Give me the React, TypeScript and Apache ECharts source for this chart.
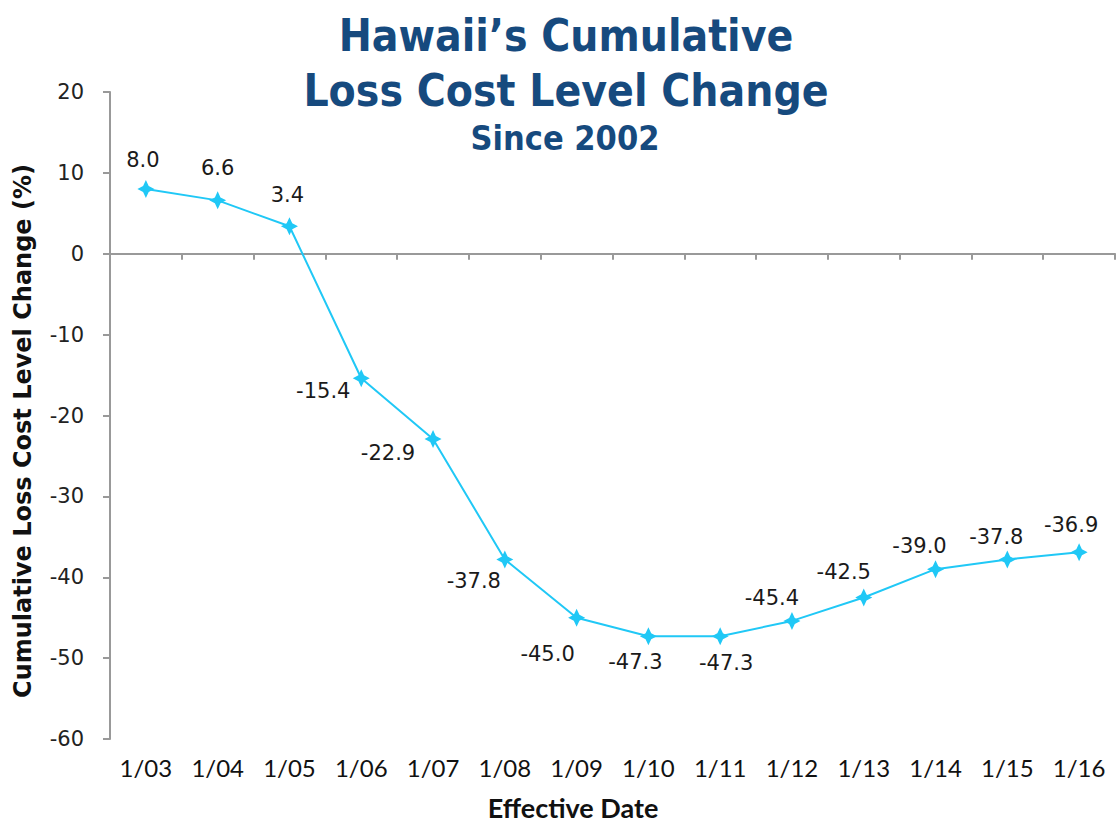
import React, { useEffect, useRef } from "react";
import * as echarts from "echarts";

const categories = ["1/03", "1/04", "1/05", "1/06", "1/07", "1/08", "1/09", "1/10", "1/11", "1/12", "1/13", "1/14", "1/15", "1/16"];
const lossCostChange = [8.0, 6.6, 3.4, -15.4, -22.9, -37.8, -45.0, -47.3, -47.3, -45.4, -42.5, -39.0, -37.8, -36.9];
const yTicks = { min: -60, max: 20, interval: 10 };
const titleLines = ["Hawaii\u2019s Cumulative", "Loss Cost Level Change", "Since 2002"];
const yAxisName = "Cumulative Loss Cost Level Change (%)";
const xAxisName = "Effective Date";

// label placement (offset of label centre from the point), styling only
const labelOffsets: [number, number][] = [
  [-3, -29], [0, -32], [-2, -31], [-38, 13], [-45, 14], [-31, 22], [-29, 36],
  [-13, 26], [6, 27], [-20, -23], [-20, -25], [-16, -23], [-11, -22], [-8, -27],
];

const LINE_COLOR = "#20C8F6";
const AXIS_COLOR = "#999999";
const TITLE_COLOR = "#164A7E";
const STAR = "path://M0,-10 L3.3,-3.3 L10,0 L3.3,3.3 L0,10 L-3.3,3.3 L-10,0 L-3.3,-3.3 Z";

export default function App() {
  const ref = useRef<HTMLDivElement>(null);
  useEffect(() => {
    if (!ref.current) return;
    const chart = echarts.init(ref.current, undefined, { renderer: "svg" });
    const titleFont = "'DejaVu Sans Condensed', 'DejaVu Sans', sans-serif";
    chart.setOption({
      animation: false,
      backgroundColor: "#ffffff",
      title: [
        { text: titleLines[0], left: 566, top: 13, textAlign: "center", padding: 0,
          textStyle: { fontFamily: titleFont, fontSize: 44, fontWeight: "bold", color: TITLE_COLOR } },
        { text: titleLines[1], left: 566, top: 68, textAlign: "center", padding: 0,
          textStyle: { fontFamily: titleFont, fontSize: 44, fontWeight: "bold", color: TITLE_COLOR } },
        { text: titleLines[2], left: 565, top: 121, textAlign: "center", padding: 0,
          textStyle: { fontFamily: titleFont, fontSize: 34, fontWeight: "bold", color: TITLE_COLOR } },
        { text: xAxisName, left: 573, top: 794, textAlign: "center", padding: 0,
          textStyle: { fontFamily: "Lato, sans-serif", fontSize: 27, fontWeight: "bold", color: "#111111" } },
      ],
      graphic: [
        {
          type: "text",
          x: 23,
          y: 431,
          rotation: Math.PI / 2,
          style: {
            text: yAxisName,
            font: "bold 24px 'DejaVu Sans', sans-serif",
            fill: "#111111",
            textAlign: "center",
            textVerticalAlign: "middle",
          },
        },
      ],
      grid: { left: 110, right: 2, top: 92, bottom: 86, containLabel: false },
      xAxis: [
        {
          type: "category",
          data: categories,
          boundaryGap: true,
          axisLine: { show: true, onZero: true, lineStyle: { color: AXIS_COLOR, width: 2 } },
          axisTick: { show: true, inside: false, length: 6, alignWithLabel: false, lineStyle: { color: AXIS_COLOR, width: 2 } },
          axisLabel: { show: false },
          splitLine: { show: false },
        },
        {
          type: "category",
          data: categories,
          position: "bottom",
          boundaryGap: true,
          axisLine: { show: false, onZero: false },
          axisTick: { show: false },
          axisLabel: { show: true, margin: 16, fontFamily: "Lato, sans-serif", fontSize: 24, color: "#111111" },
          splitLine: { show: false },
        },
      ],
      yAxis: {
        type: "value",
        min: yTicks.min,
        max: yTicks.max,
        interval: yTicks.interval,
        axisLine: { show: true, lineStyle: { color: AXIS_COLOR, width: 2 } },
        axisTick: { show: true, inside: false, length: 7, lineStyle: { color: AXIS_COLOR, width: 2 } },
        axisLabel: { margin: 26, fontFamily: "'DejaVu Sans', sans-serif", fontSize: 21, color: "#222222" },
        splitLine: { show: false },
      },
      series: [
        {
          type: "line",
          xAxisIndex: 0,
          data: lossCostChange.map((v, i) => ({
            value: v,
            label: { offset: labelOffsets[i] },
          })),
          symbol: STAR,
          symbolSize: [17, 18],
          showAllSymbol: true,
          lineStyle: { color: LINE_COLOR, width: 2 },
          itemStyle: { color: LINE_COLOR },
          label: {
            show: true,
            position: "inside",
            align: "center",
            verticalAlign: "middle",
            fontFamily: "'DejaVu Sans', sans-serif",
            fontSize: 21,
            color: "#1a1a1a",
            formatter: (p: any) => Number(p.value).toFixed(1),
          },
        },
      ],
    });
    return () => chart.dispose();
  }, []);
  return <div ref={ref} style={{ position: "fixed", left: 0, top: 0, width: 1117, height: 825 }} />;
}
